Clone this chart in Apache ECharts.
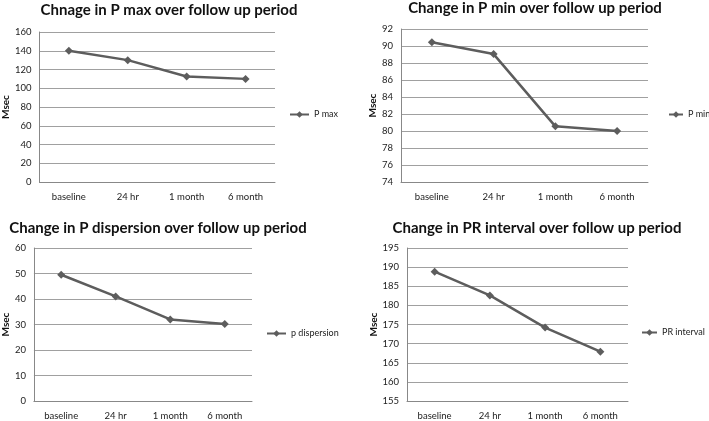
<!DOCTYPE html>
<html><head><meta charset="utf-8">
<script src="https://cdn.jsdelivr.net/npm/echarts@6/dist/echarts.min.js"></script>
<style>html,body{margin:0;padding:0;background:#fff}#c{width:709px;height:421px}</style>
</head><body><div id="c"></div>
<script>
const categories = ['baseline', '24 hr', '1 month', '6 month'];
const pMax = [140, 130, 112.5, 110];
const pMin = [90.45, 89.05, 80.55, 80.0];
const pDispersion = [49.5, 41, 32, 30.2];
const prInterval = [188.8, 182.6, 174.2, 167.9];
const titles = ['Chnage in P max over follow up period', 'Change in P min over follow up period',
  'Change in P dispersion over follow up period', 'Change in PR interval over follow up period'];
const seriesNames = ['P max', 'P min', 'p dispersion', 'PR interval'];
const yTicks = [{min:0,max:160,interval:20},{min:74,max:92,interval:2},{min:0,max:60,interval:10},{min:155,max:195,interval:5}];

const FONT = 'Lato, "Open Sans", sans-serif';
const LINE = '#5d5d5d';
const grids = [
  {left:38, top:32, width:237, height:150},
  {left:401, top:29, width:247, height:153},
  {left:32, top:248, width:220, height:155},
  {left:407, top:248, width:221, height:155}
];
const titlePos = [{x:169,y:3},{x:535,y:1},{x:158,y:221},{x:537,y:221}];
const legendPos = [{l:289,t:110,w:19},{l:668,t:110,w:14},{l:266,t:329,w:19},{l:641,t:328,w:15}];
const yNameGap = [25, 22, 21, 28];
const data = [pMax, pMin, pDispersion, prInterval];

const option = {
  animation:false,
  backgroundColor:'#fff',
  title: titles.map((t,i)=>({text:t, left:titlePos[i].x, top:titlePos[i].y, textAlign:'center', padding:0,
    textStyle:{fontFamily:FONT, fontWeight:'bold', fontSize:15, color:'#111'}})),
  legend: seriesNames.map((n,i)=>({data:[n], left:legendPos[i].l, top:legendPos[i].t, orient:'vertical', padding:0,
    itemWidth:legendPos[i].w, itemHeight:8, itemGap:2, textStyle:{fontFamily:FONT, fontSize:9, color:'#222'}})),
  grid: grids.map(g=>Object.assign({containLabel:false}, g)),
  xAxis: grids.map((g,i)=>({type:'category', gridIndex:i, data:categories, boundaryGap:true,
    axisLine:{lineStyle:{color:'#888', width:1}}, axisTick:{show:false},
    axisLabel:{fontFamily:FONT, fontSize:9.5, color:'#222', margin:10}})),
  yAxis: grids.map((g,i)=>({type:'value', gridIndex:i, min:yTicks[i].min, max:yTicks[i].max, interval:yTicks[i].interval,
    name:'Msec', nameLocation:'middle', nameRotate:90, nameGap:yNameGap[i],
    nameTextStyle:{fontFamily:FONT, fontWeight:'bold', fontSize:10, color:'#111'},
    axisLine:{show:true, lineStyle:{color:'#888', width:1}}, axisTick:{show:false},
    splitLine:{lineStyle:{color:'#a0a0a0', width:1}},
    axisLabel:{fontFamily:FONT, fontSize:9.5, color:'#222', margin:8}})),
  series: data.map((d,i)=>({type:'line', name:seriesNames[i], xAxisIndex:i, yAxisIndex:i, data:d,
    symbol:'diamond', symbolSize:8, lineStyle:{color:LINE, width:2.5}, itemStyle:{color:LINE}}))
};
echarts.init(document.getElementById('c')).setOption(option);
</script></body></html>
